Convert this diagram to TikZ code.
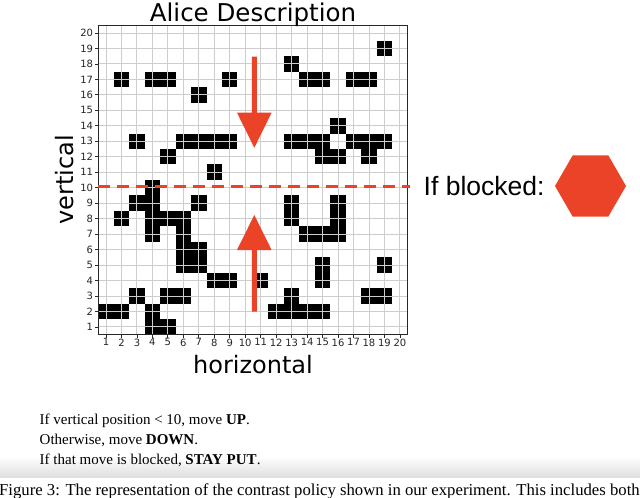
\documentclass[tikz,border=0pt]{standalone}
\usepackage{fontspec}
\setmainfont{Liberation Serif}
\newfontfamily\dvs{DejaVu Sans}
\newfontfamily\lsans{Liberation Sans}
\definecolor{redc}{RGB}{234,67,40}
\definecolor{gridc}{RGB}{205,205,205}
\definecolor{framec}{RGB}{40,40,40}
\definecolor{bandc}{RGB}{222,222,222}
\tikzset{
  ticklab/.style={inner sep=0pt, font=\dvs\fontsize{10}{12}\selectfont, text=black!85},
  axlab/.style={inner sep=0pt, font=\dvs\fontsize{24}{29}\selectfont},
  rulelab/.style={inner sep=0pt, anchor=base west, font=\fontsize{15}{18}\selectfont},
  cell/.style={fill=black},
  gridline/.style={draw=gridc, line width=0.9pt},
  tickmark/.style={draw=framec, line width=0.8pt},
}
\begin{document}
\begin{tikzpicture}[x=1pt, y=-1pt]
\useasboundingbox (0,0) rectangle (640,498);
\clip (0,0) rectangle (640,498);
\fill[white] (0,0) rectangle (640,498);

% grid
\begin{scope}[shift={(90.53,342.4)}, x=15.47pt, y=15.47pt]
  \foreach \c/\r in {19/19, 13/18,
    2/17, 4/17, 5/17, 9/17, 14/17, 15/17, 17/17, 18/17,
    7/16, 16/14,
    3/13, 6/13, 7/13, 8/13, 9/13, 13/13, 14/13, 15/13, 17/13, 18/13, 19/13,
    5/12, 15/12, 16/12, 18/12,
    8/11, 4/10,
    3/9, 4/9, 7/9, 13/9, 16/9,
    2/8, 4/8, 5/8, 6/8, 13/8, 16/8,
    4/7, 6/7, 14/7, 15/7, 16/7,
    6/6, 7/6,
    6/5, 7/5, 15/5, 19/5,
    8/4, 9/4, 11/4, 15/4,
    3/3, 5/3, 6/3, 13/3, 18/3, 19/3,
    1/2, 2/2, 4/2, 12/2, 13/2, 14/2, 15/2,
    4/1, 5/1}
    \fill[cell] (\c-0.5,\r-0.5) rectangle ++(1,1);
  \foreach \i in {1,...,20} {
    \draw[gridline] (\i,0.5) -- (\i,20.5);
    \draw[gridline] (0.5,\i) -- (20.5,\i);
    \draw[tickmark] (\i,0.5) -- ++(0pt,-3.5pt);
    \draw[tickmark] (0.5,\i) -- ++(-3.5pt,0pt);
    \node[ticklab, anchor=north] (xt\i) at ([yshift=-3.8pt]\i,0.5) {\i};
    \node[ticklab, anchor=east] (yt\i) at ([xshift=-5pt]0.5,\i) {\i};
  }
  \draw[framec, line width=1.3pt] (0.5,0.5) rectangle (20.5,20.5);
\end{scope}

% dashed threshold line
\coordinate (dashL) at (98.3,186.5);
\coordinate (dashR) at (410,186.5);
\draw[redc, line width=3.5pt, dash pattern=on 12pt off 7pt] (dashL) -- (dashR);

% arrows
\fill[redc] (251.8,56.7) -- (256.8,56.7) -- (256.8,112.7) -- (271.6,112.7)
  -- (254.3,147.7) -- (237.0,112.7) -- (251.8,112.7) -- cycle;
\fill[redc] (251.8,311.7) -- (256.8,311.7) -- (256.8,250) -- (271.6,250)
  -- (254.3,215) -- (237.0,250) -- (251.8,250) -- cycle;

% titles and labels
\node[axlab, anchor=base, font=\dvs\fontsize{24.5}{29}\selectfont] (title) at (253,21) {Alice Description};
\node[axlab, anchor=base] (xlabel) at (253,373) {horizontal};
\node[axlab, anchor=base, rotate=90] (ylabel) at (73,180) {vertical};

% if blocked
\node[inner sep=0pt, anchor=base west, font=\lsans\fontsize{26.5}{31}\selectfont] (blocked) at (423.5,195) {If blocked:};
\fill[redc] (626,186) -- (608.25,155.26) -- (572.75,155.26) -- (555,186)
  -- (572.75,216.74) -- (608.25,216.74) -- cycle;

% gradient band
\shade[top color=white, bottom color=bandc] (0,456) rectangle (640,477.5);

% rules
\node[rulelab] (rule1) at (39.5,424.5) {If vertical position < 10, move \textbf{UP}.};
\node[rulelab] (rule2) at (39.5,444.5) {Otherwise, move \textbf{DOWN}.};
\node[rulelab] (rule3) at (39.5,464.5) {If that move is blocked, \textbf{STAY PUT}.};

% caption (cut off)
\node[inner sep=0pt, anchor=base west, font=\fontsize{16.7}{20}\selectfont] (caption) at (-1,495) {Figure 3: The representation of the contrast policy shown in our experiment. This includes both};
\end{tikzpicture}
\end{document}
